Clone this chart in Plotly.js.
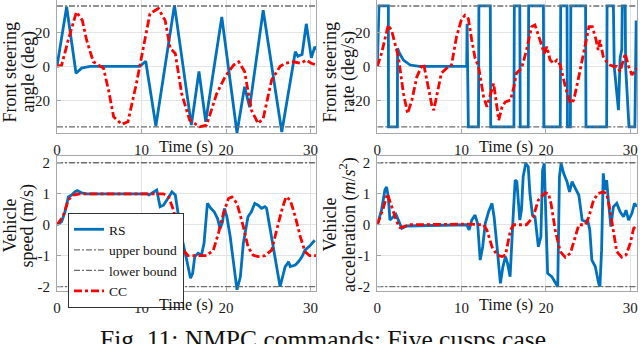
<!DOCTYPE html>
<html>
<head>
<meta charset="utf-8">
<script src="https://cdn.plot.ly/plotly-3.0.1.min.js"></script>
<style>
  body { margin: 0; background: #ffffff; }
  #plotContainer { width: 640px; height: 344px; }
</style>
</head>
<body>
<div id="plotContainer"></div>
<script>
// time axis ticks
var timeTicks = [0, 10, 20, 30];
var timeTickText = ["0", "10", "20", "30"];
var degTicks = [-20, 0, 20];
var degTickText = ["-20", "0", "20"];
var unitTicks = [-2, -1, 0, 1, 2];
var unitTickText = ["-2", "-1", "0", "1", "2"];

// bounds
var steerBound = 35.5;
var rateBound = 35.5;
var speedBound = 2;
var accelBound = 2;
var boundTime = [0, 30.8];

// front steering angle (deg)
var angleRS_t = [0, 1.14, 2.25, 2.9, 3.9, 9.8, 10.5, 11.7, 13.9, 15.9, 16.8, 17.6, 19.5, 21.3, 22.2, 22.8, 24.4, 26.6, 28.2, 28.5, 29.0, 29.5, 30.1, 30.5, 30.7];
var angleRS = [0, 35, -4, -1, 0, 0, 3, -35, 36, -34.5, -3, -32.5, 29, -39, -12, -24, 33, -38.5, 8.6, 6, 7, 25, 5, 11.5, 10];
var angleCC_t = [0, 0.55, 1.3, 2.3, 3.0, 3.5, 4.3, 5.1, 5.5, 6.1, 6.7, 7.65, 8.4, 9.4, 10.2, 11, 12, 12.8, 13.4, 14, 14.75, 15.7, 16.9, 17.7, 18.9, 19.9, 20.9, 21.5, 22.2, 23, 23.8, 24.4, 25.4, 26.4, 27, 28, 28.8, 29.5, 30.1, 30.7];
var angleCC = [0, 0.8, 15, 32, 27, 15.5, 2.7, 0, -1, -14, -29.6, -34, -32.5, -10, 9.6, 31, 34, 27, 10.6, 7.6, -16, -31.6, -35.5, -34.5, -16, -6, 0.8, 2.7, -3, -25.7, -33.5, -30.6, -8, 0, 1.8, 2.7, 1.8, 3.7, 1.8, 0.8];

// front steering rate (deg/s)
var rateRS_t = [0, 0.1, 0.2, 1.31, 1.33, 2.38, 2.4, 2.6, 3.1, 3.9, 5, 10.6, 10.65, 10.8, 12.0, 12.05, 13.4, 13.45, 16.2, 16.25, 16.9, 16.95, 17.9, 17.95, 19.7, 19.75, 21.7, 21.75, 22.5, 22.55, 22.9, 22.95, 24.7, 24.75, 27.2, 27.25, 28.0, 28.1, 28.6, 28.8, 29.0, 29.05, 29.4, 29.45, 29.8, 29.85, 30.55, 30.7];
var rateRS = [0, 27, 35.5, 35.5, -35.5, -35.5, 10.6, 8, 3.7, 0.8, 0, 0, 25, -35.5, -35.5, 35.5, 35.5, -35.5, -35.5, 35.5, 35.5, -35.5, -35.5, 35.5, 35.5, -35.5, -35.5, 35.5, 35.5, -35.5, -35.5, 35.5, 35.5, -35.5, -35.5, 35.5, 35.5, 0, -25.7, 5, 10, 35.5, 35.5, 0, -35.5, -35.5, -35.5, 27];
var rateCC_t = [0, 0.5, 1.3, 1.7, 2.5, 3.1, 3.6, 4.1, 4.7, 5.3, 5.5, 5.9, 6.5, 6.7, 7.05, 7.6, 8.2, 8.8, 9.4, 10, 10.4, 10.8, 11.2, 11.6, 12, 12.6, 13, 13.4, 13.8, 14.4, 14.8, 15.2, 15.8, 16.2, 16.5, 17.1, 17.7, 18.3, 18.7, 19.1, 19.5, 19.8, 20.1, 20.5, 20.9, 21.3, 21.7, 22.3, 22.9, 23.3, 23.9, 24.5, 25.1, 25.5, 25.9, 26.2, 26.4, 26.8, 27.2, 27.6, 28, 28.4, 28.8, 29.4, 29.8, 30.2, 30.6, 30.8];
var rateCC = [0, 7.6, 24.3, 21, 5.7, -16, -27.6, -19.8, -6, 0.8, 1.4, -8, -23.7, -25.7, -17.8, -4, -1.2, 0.8, 17.5, 28, 30, 28, 15.5, 4.7, 0, -17.8, -23.7, -16, -10, -31.6, -23.7, -20.8, -19.8, -12, -4, -1.2, 9.6, 23.3, 24.3, 18.4, 11.6, 7.6, 11.6, 3.7, 1.8, 3.7, 0.8, -12, -21.8, -19.8, -6, 9.6, 23.3, 23.3, 16.5, 9.6, 15.5, 5.7, 2.7, 0.8, 0, 0, -3, 7.6, 0, -5, -2, -1];

// vehicle speed (m/s)
var speedRS_t = [0, 0.55, 0.95, 1.34, 1.74, 2.1, 2.4, 2.9, 3.5, 10.6, 10.9, 11.4, 11.8, 12.2, 12.6, 13, 13.6, 14, 14.4, 14.75, 15.35, 15.8, 16.05, 16.3, 16.7, 17.1, 17.4, 17.8, 18.2, 18.6, 19, 19.3, 19.6, 19.8, 20.1, 20.5, 20.9, 21.3, 21.7, 22.05, 22.6, 23, 23.4, 23.8, 24.2, 24.6, 24.8, 25.2, 25.8, 26.4, 26.7, 27, 27.3, 27.4, 27.6, 28.2, 28.6, 29, 29.35, 29.9, 30.5];
var speedRS = [0, 0.1, 0.42, 0.9, 0.96, 1.06, 1.1, 1.03, 1.0, 1.0, 0.96, 1.06, 1.12, 0.58, 0.63, 0.8, 1.06, 0.96, 0.26, -0.39, -1.14, -1.73, -1.57, -1.03, -0.92, -0.98, -0.6, 0.69, 0.53, 0.42, 0.2, -0.12, 0.1, 0.53, 0.26, -0.39, -1.25, -2.1, -1.68, -0.6, 0.26, 0.42, 0.69, 0.63, 0.53, 0.58, 0.53, -0.12, -1.03, -2.0, -1.68, -1.35, -1.25, -1.19, -1.35, -1.3, -1.19, -1.03, -0.82, -0.69, -0.5];
var speedCC_t = [0, 0.7, 1.34, 1.9, 2.7, 12.6, 13.2, 13.8, 14.4, 14.95, 15.5, 17.7, 18.5, 19.1, 19.7, 20.3, 20.7, 21.3, 22.05, 22.6, 23.2, 23.8, 24.6, 25.4, 26, 26.6, 27.1, 27.6, 28.2, 28.8, 29.35, 29.9, 30.7];
var speedCC = [0, 0.26, 0.8, 0.96, 1.0, 1.0, 0.9, 0.47, -0.28, -0.82, -1.0, -1.0, -0.82, -0.28, 0.37, 0.85, 0.9, 0.69, -0.06, -0.71, -0.98, -1.03, -1.0, -0.82, -0.17, 0.47, 0.9, 0.8, 0.26, -0.39, -0.87, -1.0, -1.0];

// vehicle acceleration (m/s^2)
var accelRS_t = [0, 0.5, 0.9, 1.1, 1.3, 1.5, 1.9, 2.2, 2.5, 2.9, 3.5, 10.6, 10.9, 11.2, 11.6, 11.9, 12.2, 12.5, 12.8, 13.2, 13.6, 13.85, 14.2, 14.6, 14.9, 15.2, 15.45, 15.75, 16.15, 16.35, 16.55, 16.75, 16.9, 17.1, 17.3, 17.6, 17.9, 18.1, 18.4, 18.7, 18.9, 19.1, 19.4, 19.6, 19.8, 20, 20.2, 20.7, 21.1, 21.4, 21.6, 21.8, 22.1, 22.5, 22.8, 23.1, 23.5, 23.9, 24.3, 24.7, 24.95, 25.2, 25.45, 25.85, 26.25, 26.4, 26.6, 26.8, 27, 27.2, 27.4, 27.7, 28, 28.4, 28.8, 29.2, 29.5, 29.8, 30.2, 30.5, 30.8];
var accelRS = [0, 0.47, 1.12, 1.22, 0.9, 0.15, 0.26, 0.34, 0.15, -0.12, -0.04, 0, -0.17, 0.15, 0.31, 0.04, -1.14, -0.71, 0.04, 0.42, 0.69, 0.26, -0.71, -1.89, -1.35, -1.03, -1.25, -1.68, 0.47, 1.44, 1.39, 0.8, 0.15, 0.47, 1.55, 1.98, 1.87, 1.01, 0.31, 0.26, -0.17, -0.71, -0.39, 1.76, 1.98, 0.37, -1.57, -1.68, -1.89, -2.0, 1.55, 1.98, 1.66, 1.39, 1.06, 1.39, 1.17, 0.96, 0.15, 0.1, 0.15, -0.17, -1.14, -1.35, -1.89, -2.0, -0.82, 1.66, 1.12, 1.44, 0.8, -0.06, 0.58, 0.69, 0.42, 0.26, 0.47, 0.15, 0.37, 0.69, 0.58];
var accelCC_t = [0, 0.7, 1.2, 1.7, 2.3, 2.7, 3.3, 3.9, 10.6, 11.8, 12.6, 13, 13.6, 14.2, 14.8, 15.2, 15.8, 16.2, 17.7, 18.5, 19.1, 19.9, 20.3, 20.6, 21.1, 21.7, 22.3, 22.9, 23.5, 23.9, 24.7, 25.1, 25.65, 26.2, 26.8, 27.2, 27.6, 28, 28.4, 29, 29.5, 30, 30.4, 30.8];
var accelCC = [0, 0.53, 1.0, 0.58, 0.1, -0.09, -0.04, 0, 0.02, 0, 0, -0.17, -0.71, -0.98, -1.03, -0.98, -0.17, 0, 0, 0.26, 0.8, 1.03, 1.01, 0.69, -0.17, -0.87, -1.05, -0.92, -0.39, 0, 0, 0.26, 0.8, 1.01, 1.06, 1.01, 0.47, -0.28, -0.87, -1.05, -0.98, -0.6, -0.12, 0];

var serif = "Liberation Serif, serif";
var blue = "#0072BD";
var red = "#FF0000";
var boundColor = "#6e6e6e";

function panelTraces(xa, ya, tRS, vRS, tCC, vCC, bound, legend) {
  return [
    { x: tRS, y: vRS, xaxis: xa, yaxis: ya, name: "RS", type: "scatter", mode: "lines",
      line: { color: blue, width: 2.8 }, showlegend: legend },
    { x: boundTime, y: [bound, bound], xaxis: xa, yaxis: ya, name: "upper bound", type: "scatter", mode: "lines",
      line: { color: boundColor, width: 1.4, dash: "6px,2px,2px,2px" }, showlegend: legend },
    { x: boundTime, y: [-bound, -bound], xaxis: xa, yaxis: ya, name: "lower bound", type: "scatter", mode: "lines",
      line: { color: boundColor, width: 1.4, dash: "6px,2px,2px,2px" }, showlegend: legend },
    { x: tCC, y: vCC, xaxis: xa, yaxis: ya, name: "CC", type: "scatter", mode: "lines",
      line: { color: red, width: 2.8, dash: "8px,3px,3px,3px" }, showlegend: legend },
  ];
}

function xAxisStyle(domain, anchor, range) {
  return {
    domain: domain, anchor: anchor, range: range,
    tickvals: timeTicks, ticktext: timeTickText,
    showgrid: true, gridcolor: "#e4e4e4", zeroline: false,
    showline: true, mirror: true, linecolor: "#a8a8a8", linewidth: 1,
    ticks: "inside", ticklen: 4, tickcolor: "#a8a8a8",
    ticklabelstandoff: 3,
    tickfont: { family: serif, size: 15, color: "#1a1a1a" },
  };
}

function yAxisStyle(domain, anchor, range, vals, text) {
  return {
    domain: domain, anchor: anchor, range: range,
    tickvals: vals, ticktext: text,
    showgrid: true, gridcolor: "#e4e4e4", zeroline: false,
    showline: true, mirror: true, linecolor: "#a8a8a8", linewidth: 1,
    ticks: "inside", ticklen: 4, tickcolor: "#a8a8a8",
    ticklabelstandoff: 3,
    tickfont: { family: serif, size: 15, color: "#1a1a1a" },
  };
}

function textNote(text, xpx, ypx, size, angle) {
  return {
    text: text, xref: "paper", yref: "paper",
    x: xpx / 640, y: 1 - ypx / 344,
    xanchor: "center", yanchor: "middle",
    showarrow: false, textangle: angle || 0,
    font: { family: serif, size: size, color: "#111111" },
  };
}

var data = []
  .concat(panelTraces("x", "y", angleRS_t, angleRS, angleCC_t, angleCC, steerBound, false))
  .concat(panelTraces("x2", "y2", rateRS_t, rateRS, rateCC_t, rateCC, rateBound, false))
  .concat(panelTraces("x3", "y3", speedRS_t, speedRS, speedCC_t, speedCC, speedBound, true))
  .concat(panelTraces("x4", "y4", accelRS_t, accelRS, accelCC_t, accelCC, accelBound, false));

var leftDom = [57 / 640, 316 / 640];
var rightDom = [377.3 / 640, 637 / 640];
var topDom = [1 - 133.3 / 344, 1];
var botDom = [1 - 291 / 344, 1 - 156 / 344];

var layout = {
  width: 640, height: 344,
  margin: { l: 0, r: 0, t: 0, b: 0 },
  paper_bgcolor: "#ffffff", plot_bgcolor: "#ffffff",
  xaxis: xAxisStyle(leftDom, "y", [0, 30.65]),
  yaxis: yAxisStyle(topDom, "x", [-39.3, 39], degTicks, degTickText),
  xaxis2: xAxisStyle(rightDom, "y2", [0, 30.8]),
  yaxis2: yAxisStyle(topDom, "x2", [-39.3, 39], degTicks, degTickText),
  xaxis3: xAxisStyle(leftDom, "y3", [0, 30.65]),
  yaxis3: yAxisStyle(botDom, "x3", [-2.14, 2.22], unitTicks, unitTickText),
  xaxis4: xAxisStyle(rightDom, "y4", [0, 30.8]),
  yaxis4: yAxisStyle(botDom, "x4", [-2.14, 2.22], unitTicks, unitTickText),
  showlegend: true,
  legend: {
    x: 68 / 640, y: 1 - 213 / 344, xanchor: "left", yanchor: "top",
    bgcolor: "#ffffff", bordercolor: "#333333", borderwidth: 1,
    font: { family: serif, size: 13.5, color: "#111111" },
    traceorder: "normal", itemwidth: 30,
  },
  annotations: [
    textNote("Time (s)", 186, 147, 16),
    textNote("Time (s)", 506, 147, 16),
    textNote("Time (s)", 186, 305, 16),
    textNote("Time (s)", 506, 305, 16),
    textNote("Front steering", 9.5, 72, 18, -90),
    textNote("angle (deg)", 27.5, 72, 18, -90),
    textNote("Front steering", 329.5, 72, 18, -90),
    textNote("rate (deg/s)", 347.5, 72, 18, -90),
    textNote("Vehicle", 9.5, 226, 18, -90),
    textNote("speed (m/s)", 27.5, 226, 18, -90),
    textNote("Vehicle", 329.5, 225, 18, -90),
    textNote("acceleration (<i>m</i>/<i>s</i><sup>2</sup>)", 348, 225, 18, -90),
    textNote("Fig. 11: NMPC commands: Five cusps case", 323, 339, 25.5),
  ],
};

var config = { staticPlot: true, displayModeBar: false };

Plotly.newPlot("plotContainer", data, layout, config);
</script>
</body>
</html>
